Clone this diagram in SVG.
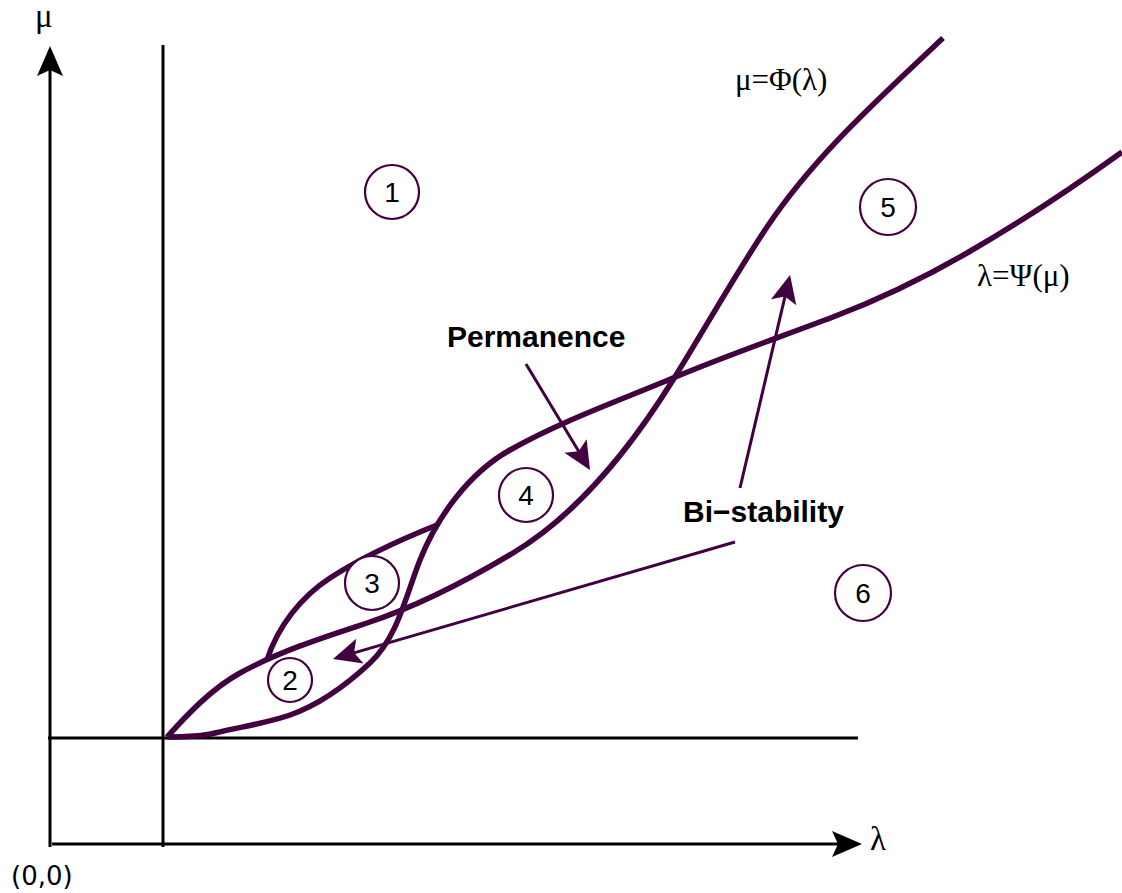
<svg xmlns="http://www.w3.org/2000/svg" width="1122" height="893" viewBox="0 0 1122 893">
<defs>
<style>
.axis{stroke:#000;stroke-width:3;fill:none}
.curve{stroke:#420040;stroke-width:5.5;fill:none;stroke-linecap:butt;stroke-linejoin:round}
.conn{stroke:#420040;stroke-width:3;fill:none}
.reg{fill:#fff;stroke:#420040;stroke-width:2.2}
.num{font-family:"Liberation Sans",Arial,sans-serif;font-size:28px;fill:#000;text-anchor:middle}
.math{font-family:"Liberation Serif","Times New Roman",serif;font-size:31px;fill:#000}
.bold{font-family:"Liberation Sans",Arial,sans-serif;font-size:30px;font-weight:bold;fill:#000}
</style>
<marker id="ah" markerUnits="userSpaceOnUse" markerWidth="40" markerHeight="40" refX="0" refY="0" orient="auto" overflow="visible">
<path d="M12,0 L-16,-13 L-10,0 L-16,13 Z" fill="#420040"/>
</marker>
</defs>
<rect width="1122" height="893" fill="#fff"/>
<g id="axes">
<line class="axis" x1="50" y1="847" x2="50" y2="70"/>
<polygon points="50,46 63,76 50,70 37,76" fill="#000"/>
<line class="axis" x1="52" y1="844" x2="840" y2="844"/>
<polygon points="862,844 832,831 838,844 832,857" fill="#000"/>
<line class="axis" x1="163" y1="45" x2="163" y2="847"/>
<line class="axis" x1="48" y1="738" x2="858" y2="738"/>
<text class="math" x="35" y="27" style="font-size:33px">μ</text>
<text class="math" x="870" y="850" style="font-size:33px">λ</text>
<text x="11" y="885" style="font-family:'DejaVu Sans',sans-serif;font-size:26px;fill:#000">(0,0)</text>
</g>
<g id="curves">
<path id="psi" class="curve" d="M167,737 C183,737 199,737 215,733 C240,726.75 265,723.75 290,715 C320,704.4 346.6,684.8 370,663 C397.8,637.1 405.9,595.3 420,560 C437.4,516.4 469,473 510,450 C561.4,421.1 618.6,400.8 673,378 C725.6,355.9 779.7,337.2 833,317 C879.3,299.4 924.1,277.7 967,253 C1020.8,222.1 1071.7,188.2 1122,152"/>
<path id="phi" class="curve" d="M167,737 C188.5,713.3 212,688.4 240,673 C279.9,651.1 323.8,637.2 367,623 C418.3,606.1 466.7,580.8 513,553 C579.9,512.9 631.7,446.1 673,380 C704.8,329.1 733.7,276.9 767,227 C814.7,155.4 880.6,97.3 943,38"/>
<path id="lobe3top" class="curve" d="M267,660 C278,626 301.5,596.5 330,578 C363.5,556.2 399.9,539.8 437,525"/>
<text class="math" x="735" y="90">μ=Φ(λ)</text>
<text class="math" x="977" y="286">λ=Ψ(μ)</text>
</g>
<g id="connectors">
<line class="conn" x1="526" y1="364" x2="583.8" y2="459.7" marker-end="url(#ah)"/>
<line class="conn" x1="740" y1="488" x2="787.3" y2="286.7" marker-end="url(#ah)"/>
<line class="conn" x1="735" y1="542" x2="344.5" y2="655.6" marker-end="url(#ah)"/>
</g>
<g id="label-permanence"><text class="bold" x="447" y="347">Permanence</text></g>
<g id="label-bistability"><text class="bold" x="683" y="522">Bi−stability</text></g>
<g id="region1"><circle class="reg" cx="392" cy="192" r="27"/><text class="num" x="392" y="202">1</text></g>
<g id="region2"><circle class="reg" cx="290" cy="680" r="22"/><text class="num" x="290" y="690">2</text></g>
<g id="region3"><circle class="reg" cx="372" cy="583" r="27"/><text class="num" x="372" y="593">3</text></g>
<g id="region4"><circle class="reg" cx="526" cy="495" r="27"/><text class="num" x="526" y="505">4</text></g>
<g id="region5"><circle class="reg" cx="888" cy="207" r="28"/><text class="num" x="888" y="217">5</text></g>
<g id="region6"><circle class="reg" cx="863" cy="593" r="28"/><text class="num" x="863" y="603">6</text></g>
</svg>
